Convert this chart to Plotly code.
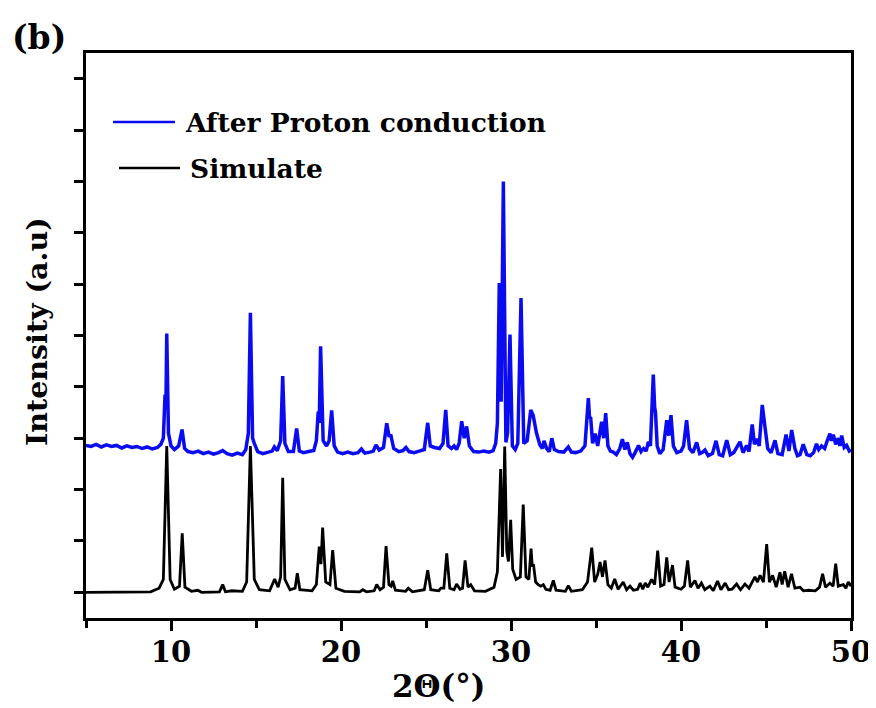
import plotly.graph_objects as go

# ---------------- data ----------------
series_names = ["After Proton conduction", "Simulate"]

sim_x = [5.0, 8.8, 9.3, 9.55, 9.75, 9.95, 10.2, 10.5, 10.66, 10.82, 11.2, 11.57, 11.8, 12.85, 13.04, 13.2,
         13.57, 14.2, 14.45, 14.67, 14.9, 15.2, 15.8, 16.1, 16.3, 16.45, 16.57, 16.7, 17.0, 17.3, 17.43, 17.58,
         18.3, 18.55, 18.72, 18.82, 18.92, 19.1, 19.35, 19.51, 19.7, 20.2, 21.1, 21.28, 21.5, 21.95, 22.1, 22.3,
         22.5, 22.65, 22.82, 22.95, 23.04, 23.2, 23.8, 23.96, 24.2, 24.9, 25.1, 25.28, 25.75, 25.88, 26.05, 26.22,
         26.4, 26.65, 26.8, 27.0, 27.15, 27.3, 27.47, 27.63, 27.85, 28.5, 29.0, 29.2, 29.39, 29.5, 29.63, 29.75,
         29.85, 29.98, 30.1, 30.3, 30.55, 30.72, 30.88, 31.05, 31.18, 31.25, 31.32, 31.45, 31.6, 31.75, 31.9, 32.05,
         32.3, 32.49, 32.65, 33.2, 33.37, 33.55, 34.2, 34.5, 34.75, 34.92, 35.1, 35.24, 35.38, 35.53, 35.7, 35.9,
         36.1, 36.3, 36.6, 36.8, 37.0, 37.2, 37.45, 37.6, 37.75, 37.9, 38.05, 38.27, 38.45, 38.63, 38.8, 39.0,
         39.16, 39.3, 39.5, 39.65, 40.0, 40.2, 40.39, 40.55, 40.82, 41.0, 41.2, 41.4, 41.7, 41.9, 42.15, 42.35,
         42.6, 42.8, 43.0, 43.27, 43.5, 43.76, 44.0, 44.2, 44.35, 44.5, 44.65, 44.85, 45.04, 45.2, 45.39, 45.6,
         45.82, 45.95, 46.1, 46.3, 46.5, 46.7, 47.0, 47.2, 47.5, 47.9, 48.15, 48.33, 48.5, 48.76, 48.95, 49.1,
         49.25, 49.55, 49.7, 49.84, 50.0]
sim_y = [0.0, 0.01, 0.08, 0.25, 2.85, 0.25, 0.06, 0.12, 1.15, 0.1, 0.02, 0.04, 0.0, 0.01, 0.15, 0.01,
         0.03, 0.02, 0.2, 2.85, 0.25, 0.05, 0.03, 0.26, 0.1, 0.3, 2.23, 0.25, 0.05, 0.08, 0.37, 0.05,
         0.03, 0.15, 0.89, 0.55, 1.26, 0.2, 0.15, 0.82, 0.08, 0.02, 0.01, 0.05, 0.01, 0.03, 0.15, 0.05,
         0.1, 0.9, 0.15, 0.12, 0.22, 0.04, 0.02, 0.08, 0.01, 0.05, 0.43, 0.05, 0.03, 0.08, 0.08, 0.76,
         0.08, 0.05, 0.16, 0.06, 0.08, 0.62, 0.1, 0.15, 0.03, 0.02, 0.1, 0.4, 2.4, 0.69, 2.84, 0.8,
         0.6, 1.41, 0.45, 0.25, 0.3, 1.71, 0.3, 0.25, 0.85, 0.5, 0.55, 0.2, 0.15, 0.12, 0.15, 0.06,
         0.04, 0.23, 0.04, 0.02, 0.13, 0.02, 0.05, 0.2, 0.87, 0.2, 0.35, 0.59, 0.3, 0.62, 0.15, 0.08,
         0.26, 0.06, 0.2, 0.05, 0.12, 0.04, 0.06, 0.18, 0.06, 0.18, 0.1, 0.25, 0.15, 0.81, 0.12, 0.15,
         0.68, 0.2, 0.53, 0.1, 0.06, 0.12, 0.62, 0.1, 0.23, 0.08, 0.18, 0.05, 0.12, 0.03, 0.22, 0.05,
         0.18, 0.05, 0.06, 0.16, 0.05, 0.16, 0.08, 0.2, 0.3, 0.2, 0.33, 0.2, 0.94, 0.2, 0.33, 0.1,
         0.39, 0.15, 0.41, 0.1, 0.36, 0.08, 0.1, 0.03, 0.04, 0.03, 0.1, 0.36, 0.1, 0.18, 0.12, 0.56,
         0.12, 0.15, 0.08, 0.2, 0.12]

exp_x = [5.0, 5.3, 5.6, 5.9, 6.2, 6.5, 6.8, 7.1, 7.4, 7.7, 8.0, 8.3, 8.6, 8.9, 9.2, 9.4, 9.55, 9.65, 9.7, 9.75,
         9.85, 10.0, 10.2, 10.45, 10.65, 10.8, 11.0, 11.3, 11.6, 11.9, 12.2, 12.5, 12.8, 13.04, 13.3, 13.6, 13.9,
         14.2, 14.4, 14.55, 14.67, 14.8, 14.9, 15.1, 15.4, 15.7, 15.95, 16.08, 16.25, 16.45, 16.57, 16.7, 16.9,
         17.2, 17.39, 17.55, 17.8, 18.1, 18.4, 18.55, 18.66, 18.72, 18.8, 18.95, 19.15, 19.3, 19.45, 19.6, 19.8,
         20.1, 20.4, 20.7, 21.0, 21.2, 21.4, 21.7, 21.9, 22.06, 22.25, 22.5, 22.69, 22.82, 22.94, 23.1, 23.4,
         23.65, 23.82, 24.0, 24.3, 24.6, 24.9, 25.1, 25.25, 25.5, 25.8, 26.0, 26.16, 26.3, 26.5, 26.65, 26.8,
         26.95, 27.1, 27.25, 27.39, 27.55, 27.8, 28.1, 28.4, 28.7, 28.95, 29.1, 29.2, 29.31, 29.42, 29.55, 29.7,
         29.8, 29.94, 30.08, 30.25, 30.4, 30.59, 30.75, 30.95, 31.16, 31.3, 31.5, 31.7, 31.85, 31.94, 32.1, 32.25,
         32.4, 32.55, 32.8, 33.1, 33.37, 33.55, 33.8, 34.1, 34.35, 34.55, 34.62, 34.69, 34.8, 34.94, 35.1, 35.33,
         35.45, 35.57, 35.7, 35.85, 36.02, 36.2, 36.4, 36.55, 36.7, 36.84, 37.0, 37.15, 37.3, 37.5, 37.65, 37.8,
         37.95, 38.08, 38.2, 38.37, 38.45, 38.5, 38.6, 38.75, 38.95, 39.16, 39.28, 39.41, 39.55, 39.75, 40.0,
         40.15, 40.33, 40.5, 40.7, 40.92, 41.1, 41.25, 41.41, 41.6, 41.85, 42.06, 42.25, 42.45, 42.69, 42.9,
         43.1, 43.25, 43.47, 43.65, 43.86, 44.0, 44.19, 44.32, 44.45, 44.6, 44.78, 44.94, 45.1, 45.3, 45.53,
         45.7, 45.95, 46.18, 46.35, 46.51, 46.7, 46.85, 47.0, 47.19, 47.4, 47.6, 47.8, 47.97, 48.1, 48.27, 48.45,
         48.6, 48.76, 48.85, 48.96, 49.1, 49.25, 49.35, 49.45, 49.6, 49.74, 49.9, 50.0]
exp_y = [2.86, 2.84, 2.88, 2.83, 2.87, 2.84, 2.86, 2.81, 2.85, 2.82, 2.84, 2.80, 2.83, 2.79, 2.82, 2.88, 3.0,
         3.85, 3.6, 5.04, 3.1, 2.85, 2.78, 2.85, 3.17, 2.8, 2.74, 2.72, 2.75, 2.7, 2.73, 2.69, 2.72, 2.76, 2.7,
         2.67, 2.71, 2.68, 2.78, 3.1, 5.44, 3.0, 2.9, 2.74, 2.7, 2.72, 2.75, 2.83, 2.76, 2.95, 4.21, 2.9, 2.74,
         2.74, 3.19, 2.75, 2.72, 2.74, 2.76, 2.95, 3.52, 3.3, 4.79, 2.95, 2.85, 2.95, 3.54, 2.85, 2.73, 2.7,
         2.73, 2.7, 2.72, 2.79, 2.71, 2.73, 2.75, 2.87, 2.77, 2.82, 3.29, 3.05, 3.05, 2.8, 2.74, 2.76, 2.82,
         2.74, 2.72, 2.75, 2.78, 3.30, 2.85, 2.82, 2.8, 2.9, 3.55, 2.85, 2.8, 2.85, 2.78, 2.9, 3.33, 3.0, 3.23,
         2.85, 2.74, 2.73, 2.75, 2.73, 2.76, 2.9, 3.3, 6.02, 3.71, 8.0, 2.92, 3.1, 5.02, 2.85, 2.78, 2.9, 5.73,
         2.9, 2.95, 3.55, 3.45, 3.1, 2.87, 2.8, 2.95, 2.8, 2.74, 3.0, 2.78, 2.74, 2.73, 2.83, 2.73, 2.72, 2.75,
         2.85, 3.78, 3.4, 3.39, 2.9, 3.09, 2.85, 3.32, 3.0, 3.49, 2.85, 2.75, 2.73, 2.68, 2.8, 2.98, 2.78, 2.92,
         2.7, 2.63, 2.72, 2.86, 2.74, 2.8, 2.75, 2.93, 2.85, 4.24, 3.6, 3.5, 2.85, 2.7, 2.78, 3.35, 3.05, 3.45,
         2.85, 2.72, 2.75, 2.85, 3.35, 2.8, 2.72, 2.92, 2.7, 2.72, 2.77, 2.66, 2.7, 2.95, 2.68, 2.66, 2.96,
         2.68, 2.72, 2.8, 2.93, 2.72, 2.86, 2.74, 3.27, 2.88, 2.99, 2.85, 3.65, 3.22, 2.8, 2.72, 2.96, 2.7,
         2.68, 3.07, 2.75, 3.16, 2.8, 2.66, 2.68, 2.88, 2.68, 2.66, 2.72, 2.89, 2.78, 2.85, 2.8, 2.95, 3.09,
         2.95, 3.07, 2.88, 3.0, 2.85, 3.05, 2.82, 2.86, 2.75, 2.77]

x_tick_vals = [10, 20, 30, 40, 50]
x_tick_text = ["10", "20", "30", "40", "50"]
x_title = "2Θ(°)"
y_title = "Intensity (a.u)"
panel_label = "(b)"

BLUE = "#0b0bf2"
BLACK = "#000000"
FONT = "DejaVu Serif"

# the page body adds an 8px margin, so the figure is drawn 8px smaller and
# all screen targets are shifted by that offset
OFF = 8
W, H = 876 - OFF, 708 - OFF
L, R, T, B = 86 - OFF, 25, 53 - OFF, 98 - OFF
PW, PH = W - L - R, H - T - B


def px(xp):
    return (xp - OFF - L) / PW


def py(yp):
    return (H - B - (yp - OFF)) / PH


fig = go.Figure()
fig.add_trace(go.Scatter(x=sim_x, y=sim_y, mode="lines", name=series_names[1],
                         line=dict(color=BLACK, width=2.8), showlegend=False))
fig.add_trace(go.Scatter(x=exp_x, y=exp_y, mode="lines", name=series_names[0],
                         line=dict(color=BLUE, width=3.5), showlegend=False))

fig.update_layout(
    width=W, height=H,
    margin=dict(l=L, r=R, t=T, b=B, autoexpand=False),
    paper_bgcolor="white", plot_bgcolor="white",
    font=dict(family=FONT, color="black"),
    xaxis=dict(
        range=[5, 50], tickmode="array", tickvals=x_tick_vals, ticktext=x_tick_text,
        ticks="outside", ticklen=10, tickwidth=3, tickcolor="black",
        minor=dict(tickvals=[5, 15, 25, 35, 45], ticks="outside", ticklen=7, tickwidth=3, tickcolor="black"),
        showline=True, linewidth=3, linecolor="black", mirror=True,
        showgrid=False, zeroline=False, automargin=False,
        tickfont=dict(family=FONT, size=29, color="black", weight="bold"),
        ticklabelstandoff=-4,
    ),
    yaxis=dict(
        range=[-0.5, 10.5], tickmode="linear", tick0=0, dtick=1,
        ticks="outside", ticklen=9, tickwidth=3, tickcolor="black", showticklabels=False,
        showline=True, linewidth=3, linecolor="black", mirror=True,
        showgrid=False, zeroline=False, automargin=False,
    ),
)

# axis titles and panel label
fig.add_annotation(text=x_title, xref="paper", yref="paper", x=px(438), y=py(686),
                   xanchor="center", yanchor="middle", showarrow=False,
                   font=dict(family=FONT, size=31, color="black", weight="bold"))
fig.add_annotation(text=y_title, xref="paper", yref="paper", x=px(37), y=py(332), textangle=-90,
                   xanchor="center", yanchor="middle", showarrow=False,
                   font=dict(family=FONT, size=28.5, color="black", weight="bold"))
fig.add_annotation(text=panel_label, xref="paper", yref="paper", x=px(10), y=py(37),
                   xanchor="left", yanchor="middle", showarrow=False,
                   font=dict(family=FONT, size=33, color="black", weight="bold"))

# manual legend
leg = [(series_names[0], BLUE, 113, 175, 122, 183), (series_names[1], BLACK, 119, 180, 168, 188)]
for name, col, x0, x1, yy, tx in leg:
    fig.add_shape(type="line", xref="paper", yref="paper", x0=px(x0), x1=px(x1), y0=py(yy), y1=py(yy),
                  line=dict(color=col, width=2.5))
    fig.add_annotation(text=name, xref="paper", yref="paper", x=px(tx), y=py(yy),
                       xanchor="left", yanchor="middle", showarrow=False,
                       font=dict(family=FONT, size=26.5, color="black", weight="bold"))

fig.write_html("out.html")
